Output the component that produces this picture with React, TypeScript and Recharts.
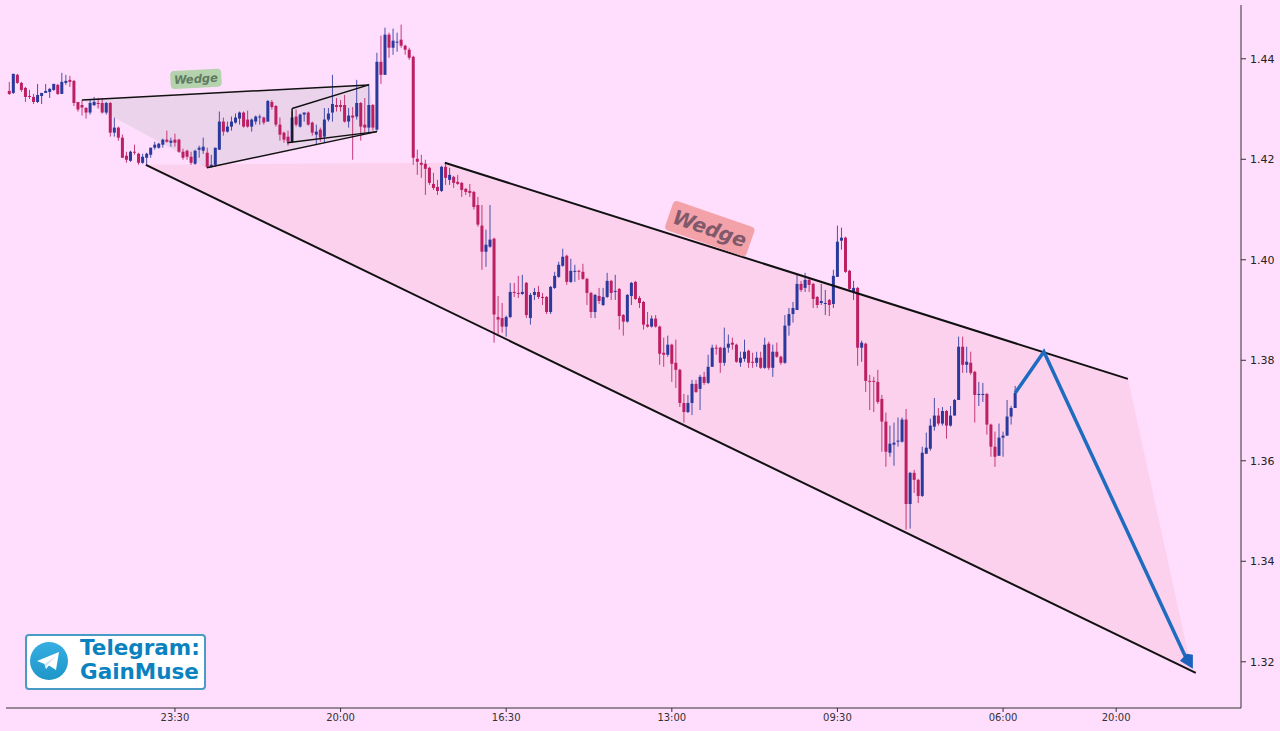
import React from "react";
import { ComposedChart, Area, Bar, Line, XAxis, YAxis, ReferenceLine, ReferenceDot } from "recharts";

const opens = [
  1.4336,1.4332,1.4368,1.4352,1.4342,1.4326,1.4324,1.4314,1.4326,1.4332,
  1.4334,1.4338,1.4348,1.4330,1.4352,1.4358,1.4356,1.4314,1.4308,1.4302,
  1.4293,1.4308,1.4312,1.4312,1.4293,1.4312,1.4253,1.4263,1.4243,1.4207,
  1.4197,1.4215,1.4211,1.4193,1.4203,1.4209,1.4223,1.4223,1.4229,1.4239,
  1.4233,1.4239,1.4239,1.4215,1.4217,1.4205,1.4191,1.4219,1.4217,1.4213,
  1.4185,1.4189,1.4219,1.4275,1.4255,1.4265,1.4273,1.4281,1.4293,1.4279,
  1.4265,1.4275,1.4283,1.4283,1.4275,1.4314,1.4306,1.4269,1.4253,1.4245,
  1.4235,1.4285,1.4265,1.4289,1.4293,1.4273,1.4249,1.4259,1.4245,1.4279,
  1.4293,1.4308,1.4308,1.4308,1.4275,1.4287,1.4285,1.4312,1.4269,1.4263,
  1.4308,1.4259,1.4394,1.4368,1.4448,1.4422,1.4432,1.4438,1.4426,1.4418,
  1.4404,1.4201,1.4193,1.4191,1.4183,1.4151,1.4145,1.4137,1.4185,1.4159,
  1.4165,1.4155,1.4153,1.4141,1.4137,1.4135,1.4109,1.4068,1.4016,1.4026,
  1.4042,1.3886,1.3884,1.3867,1.3886,1.3936,1.3934,1.3932,1.3954,1.3884,
  1.3930,1.3936,1.3926,1.3926,1.3896,1.3944,1.3966,1.3988,1.4008,1.3956,
  1.3976,1.3978,1.3976,1.3962,1.3934,1.3896,1.3928,1.3910,1.3926,1.3958,
  1.3936,1.3942,1.3890,1.3877,1.3928,1.3956,1.3924,1.3916,1.3871,1.3867,
  1.3883,1.3867,1.3815,1.3811,1.3831,1.3795,1.3781,1.3715,1.3697,1.3715,
  1.3753,1.3743,1.3767,1.3755,1.3787,1.3825,1.3825,1.3795,1.3825,1.3835,
  1.3831,1.3795,1.3803,1.3819,1.3797,1.3795,1.3805,1.3785,1.3833,1.3785,
  1.3817,1.3807,1.3795,1.3869,1.3892,1.3900,1.3952,1.3944,1.3960,1.3952,
  1.3926,1.3914,1.3912,1.3920,1.3912,1.3966,1.4038,1.4044,1.3978,1.3936,
  1.3944,1.3825,1.3833,1.3759,1.3759,1.3757,1.3723,1.3678,1.3616,1.3632,
  1.3638,1.3638,1.3682,1.3514,1.3576,1.3562,1.3530,1.3614,1.3624,1.3668,
  1.3690,1.3674,1.3699,1.3670,1.3690,1.3721,1.3827,1.3791,1.3795,1.3777,
  1.3731,1.3731,1.3733,1.3672,1.3628,1.3610,1.3646,1.3650,1.3688,1.3705,
];
const highs = [
  1.4354,1.4370,1.4370,1.4354,1.4344,1.4338,1.4330,1.4350,1.4332,1.4350,
  1.4342,1.4350,1.4350,1.4372,1.4368,1.4366,1.4358,1.4314,1.4318,1.4304,
  1.4318,1.4324,1.4322,1.4322,1.4314,1.4314,1.4283,1.4265,1.4249,1.4215,
  1.4217,1.4229,1.4213,1.4211,1.4213,1.4223,1.4235,1.4233,1.4241,1.4257,
  1.4243,1.4251,1.4241,1.4221,1.4219,1.4215,1.4219,1.4227,1.4243,1.4223,
  1.4209,1.4223,1.4295,1.4283,1.4275,1.4285,1.4291,1.4295,1.4295,1.4297,
  1.4281,1.4287,1.4289,1.4285,1.4318,1.4318,1.4308,1.4283,1.4255,1.4257,
  1.4295,1.4299,1.4291,1.4293,1.4295,1.4275,1.4269,1.4263,1.4302,1.4302,
  1.4368,1.4322,1.4318,1.4328,1.4302,1.4304,1.4358,1.4314,1.4322,1.4350,
  1.4310,1.4412,1.4446,1.4462,1.4452,1.4460,1.4452,1.4468,1.4428,1.4422,
  1.4406,1.4219,1.4209,1.4199,1.4185,1.4173,1.4159,1.4187,1.4193,1.4183,
  1.4167,1.4169,1.4155,1.4143,1.4151,1.4137,1.4125,1.4109,1.4060,1.4109,
  1.4044,1.3928,1.3914,1.3889,1.3954,1.3954,1.3968,1.3970,1.3956,1.3934,
  1.3944,1.3948,1.3934,1.3928,1.3948,1.3976,1.3996,1.4022,1.4010,1.4002,
  1.3990,1.3980,1.3992,1.3964,1.3936,1.3932,1.3944,1.3944,1.3974,1.3960,
  1.3970,1.3944,1.3892,1.3932,1.3956,1.3958,1.3928,1.3918,1.3896,1.3889,
  1.3890,1.3869,1.3845,1.3849,1.3833,1.3841,1.3783,1.3733,1.3731,1.3761,
  1.3761,1.3771,1.3777,1.3811,1.3831,1.3831,1.3827,1.3865,1.3851,1.3845,
  1.3833,1.3817,1.3841,1.3821,1.3815,1.3817,1.3817,1.3845,1.3837,1.3831,
  1.3835,1.3809,1.3890,1.3904,1.3916,1.3970,1.3958,1.3974,1.3964,1.3954,
  1.3928,1.3952,1.3940,1.3922,1.3980,1.4068,1.4064,1.4046,1.3980,1.3958,
  1.3946,1.3839,1.3835,1.3771,1.3767,1.3781,1.3731,1.3696,1.3670,1.3676,
  1.3686,1.3686,1.3703,1.3578,1.3582,1.3564,1.3628,1.3656,1.3684,1.3725,
  1.3705,1.3707,1.3701,1.3709,1.3723,1.3847,1.3847,1.3827,1.3817,1.3779,
  1.3757,1.3755,1.3735,1.3674,1.3658,1.3674,1.3658,1.3721,1.3709,1.3749,
];
const lows = [
  1.4328,1.4330,1.4350,1.4334,1.4314,1.4320,1.4310,1.4312,1.4310,1.4332,
  1.4322,1.4336,1.4328,1.4330,1.4348,1.4344,1.4306,1.4295,1.4287,1.4281,
  1.4289,1.4306,1.4301,1.4291,1.4289,1.4245,1.4245,1.4237,1.4203,1.4193,
  1.4195,1.4209,1.4189,1.4191,1.4189,1.4203,1.4219,1.4221,1.4223,1.4233,
  1.4225,1.4225,1.4213,1.4199,1.4199,1.4189,1.4189,1.4203,1.4211,1.4183,
  1.4183,1.4185,1.4219,1.4247,1.4253,1.4257,1.4271,1.4269,1.4263,1.4263,
  1.4255,1.4269,1.4269,1.4269,1.4275,1.4299,1.4265,1.4237,1.4233,1.4227,
  1.4233,1.4265,1.4263,1.4275,1.4267,1.4247,1.4229,1.4235,1.4233,1.4275,
  1.4275,1.4295,1.4295,1.4273,1.4263,1.4199,1.4279,1.4237,1.4253,1.4253,
  1.4257,1.4255,1.4350,1.4368,1.4402,1.4408,1.4414,1.4422,1.4408,1.4398,
  1.4189,1.4169,1.4163,1.4129,1.4149,1.4139,1.4129,1.4135,1.4149,1.4149,
  1.4143,1.4149,1.4125,1.4129,1.4125,1.4100,1.4066,1.3980,1.3986,1.4024,
  1.3835,1.3851,1.3855,1.3847,1.3884,1.3926,1.3924,1.3930,1.3884,1.3871,
  1.3920,1.3922,1.3910,1.3892,1.3892,1.3942,1.3964,1.3986,1.3950,1.3954,
  1.3956,1.3960,1.3960,1.3910,1.3884,1.3884,1.3912,1.3908,1.3924,1.3920,
  1.3920,1.3861,1.3849,1.3875,1.3910,1.3920,1.3904,1.3861,1.3865,1.3865,
  1.3865,1.3791,1.3787,1.3807,1.3757,1.3745,1.3707,1.3676,1.3695,1.3691,
  1.3735,1.3701,1.3751,1.3753,1.3787,1.3811,1.3775,1.3789,1.3815,1.3821,
  1.3795,1.3787,1.3797,1.3785,1.3785,1.3787,1.3783,1.3783,1.3781,1.3767,
  1.3805,1.3791,1.3793,1.3849,1.3875,1.3900,1.3936,1.3936,1.3936,1.3904,
  1.3904,1.3910,1.3890,1.3888,1.3904,1.3966,1.4020,1.3974,1.3938,1.3920,
  1.3789,1.3797,1.3737,1.3701,1.3697,1.3713,1.3618,1.3588,1.3608,1.3590,
  1.3628,1.3636,1.3463,1.3465,1.3536,1.3516,1.3528,1.3614,1.3620,1.3660,
  1.3670,1.3670,1.3644,1.3668,1.3690,1.3721,1.3775,1.3775,1.3771,1.3676,
  1.3709,1.3717,1.3652,1.3608,1.3588,1.3610,1.3608,1.3650,1.3672,1.3705,
];
const closes = [
  1.4330,1.4370,1.4352,1.4338,1.4324,1.4324,1.4314,1.4328,1.4332,1.4336,
  1.4340,1.4350,1.4330,1.4354,1.4356,1.4354,1.4312,1.4299,1.4303,1.4293,
  1.4312,1.4314,1.4310,1.4293,1.4312,1.4253,1.4263,1.4243,1.4203,1.4199,
  1.4215,1.4213,1.4193,1.4205,1.4211,1.4223,1.4229,1.4231,1.4239,1.4235,
  1.4237,1.4233,1.4215,1.4203,1.4205,1.4193,1.4217,1.4223,1.4225,1.4185,
  1.4189,1.4223,1.4275,1.4255,1.4265,1.4275,1.4283,1.4293,1.4265,1.4265,
  1.4279,1.4285,1.4285,1.4273,1.4316,1.4304,1.4269,1.4249,1.4239,1.4235,
  1.4283,1.4269,1.4289,1.4293,1.4269,1.4253,1.4255,1.4243,1.4279,1.4291,
  1.4310,1.4304,1.4304,1.4275,1.4287,1.4283,1.4312,1.4265,1.4263,1.4308,
  1.4263,1.4394,1.4368,1.4448,1.4422,1.4436,1.4434,1.4426,1.4418,1.4402,
  1.4203,1.4195,1.4189,1.4181,1.4153,1.4143,1.4137,1.4185,1.4163,1.4169,
  1.4153,1.4151,1.4139,1.4135,1.4133,1.4105,1.4070,1.4016,1.4030,1.4040,
  1.3891,1.3881,1.3867,1.3886,1.3936,1.3934,1.3932,1.3936,1.3890,1.3930,
  1.3936,1.3926,1.3924,1.3896,1.3946,1.3968,1.3990,1.4006,1.3956,1.3978,
  1.3978,1.3976,1.3962,1.3934,1.3896,1.3930,1.3918,1.3926,1.3958,1.3934,
  1.3938,1.3888,1.3877,1.3930,1.3954,1.3922,1.3914,1.3871,1.3867,1.3883,
  1.3867,1.3813,1.3811,1.3831,1.3793,1.3781,1.3715,1.3697,1.3715,1.3753,
  1.3737,1.3767,1.3755,1.3787,1.3825,1.3823,1.3795,1.3825,1.3833,1.3831,
  1.3797,1.3805,1.3817,1.3795,1.3795,1.3805,1.3785,1.3831,1.3785,1.3817,
  1.3807,1.3795,1.3869,1.3892,1.3904,1.3952,1.3940,1.3960,1.3950,1.3922,
  1.3910,1.3918,1.3914,1.3910,1.3968,1.4036,1.4044,1.3976,1.3942,1.3944,
  1.3825,1.3835,1.3759,1.3757,1.3757,1.3717,1.3678,1.3618,1.3634,1.3636,
  1.3640,1.3682,1.3514,1.3576,1.3562,1.3530,1.3616,1.3626,1.3670,1.3690,
  1.3674,1.3699,1.3670,1.3690,1.3721,1.3827,1.3791,1.3797,1.3775,1.3731,
  1.3733,1.3733,1.3672,1.3628,1.3608,1.3646,1.3650,1.3688,1.3705,1.3735,
];

const xTicks = [41, 82, 123, 164, 205, 246, 274];
const xTickLabels = ["23:30", "20:00", "16:30", "13:00", "09:30", "06:00", "20:00"];
const yTicks = [1.32, 1.34, 1.36, 1.38, 1.4, 1.42, 1.44];

// wedge shapes, range is [lower edge, upper edge]
const bigWedge = [
  { i: 33.8, range: [1.4189, 1.4189] },
  { i: 107.8, range: [1.3901, 1.4193] },
  { i: 276.9, range: [1.3243, 1.3763] },
  { i: 292.7, range: [1.3182, 1.3184] },
];
const smallWedge = [
  { i: 18, range: [1.4318, 1.4318] },
  { i: 48.9, range: [1.4183, 1.4331] },
  { i: 89, range: [1.4252, 1.4348] },
  { i: 91, range: [1.4255, 1.4255] },
];
const forecast = [
  { i: 249, y: 1.3735 },
  { i: 256.1, y: 1.3817 },
  { i: 291.5, y: 1.3204 },
];

const trendLines = [
  [{ x: 107.8, y: 1.4193 }, { x: 276.9, y: 1.3763 }],
  [{ x: 33.8, y: 1.4189 }, { x: 293.7, y: 1.3178 }],
  [{ x: 18, y: 1.4318 }, { x: 89, y: 1.4348 }],
  [{ x: 48.9, y: 1.4183 }, { x: 91, y: 1.4255 }],
  [{ x: 70, y: 1.4301 }, { x: 89, y: 1.4348 }],
  [{ x: 70, y: 1.4301 }, { x: 70, y: 1.4233 }],
  [{ x: 68.8, y: 1.4233 }, { x: 91, y: 1.4255 }],
];

const candles = opens.map((open, i) => ({
  i,
  open,
  high: highs[i],
  low: lows[i],
  close: closes[i],
}));

const UP = "#2a3a9c";
const DOWN = "#bd1f63";

function Candle(props: any) {
  const { x, y, width, height, payload } = props;
  const perUnit = height / (payload.high - payload.low);
  const cx = x + width / 2;
  const top = y + (payload.high - Math.max(payload.open, payload.close)) * perUnit;
  const bottom = y + (payload.high - Math.min(payload.open, payload.close)) * perUnit;
  const color = payload.close >= payload.open ? UP : DOWN;
  return (
    <g>
      <line x1={cx} x2={cx} y1={y} y2={y + height} stroke={color} strokeWidth={1} strokeOpacity={0.85} />
      <rect x={cx - 1.5} y={top} width={3} height={Math.max(bottom - top, 1)} fill={color} />
    </g>
  );
}

function WedgeTag({ cx, cy, w, h, angle, size, fill, color }: any) {
  return (
    <g transform={`rotate(${angle} ${cx} ${cy})`}>
      <rect x={cx - w / 2} y={cy - h / 2} width={w} height={h} rx={4} fill={fill} />
      <text
        x={cx}
        y={cy}
        textAnchor="middle"
        dominantBaseline="central"
        fontFamily="DejaVu Sans"
        fontWeight="bold"
        fontStyle="italic"
        fontSize={size}
        fill={color}
      >
        Wedge
      </text>
    </g>
  );
}

function ArrowHead({ cx, cy, index }: any) {
  if (index !== forecast.length - 1) return null;
  const d = `M${cx - 7} ${cy + 1} L${cx} ${cy - 6} L${cx + 6} ${cy - 5} L${cx + 6} ${cy + 9} Z`;
  return <path key={index} d={d} fill="#1c62bd" />;
}

function Badge() {
  return (
    <div
      style={{
        position: "absolute",
        left: 25,
        top: 634,
        width: 177,
        height: 52,
        background: "#fff",
        border: "2px solid #4a9ac6",
        borderRadius: 4,
      }}
    >
      <svg width={40} height={40} style={{ position: "absolute", left: 2, top: 5 }}>
        <defs>
          <linearGradient id="tg" x1="0" y1="0" x2="0" y2="1">
            <stop offset="0" stopColor="#37aee2" />
            <stop offset="1" stopColor="#1e96c8" />
          </linearGradient>
        </defs>
        <circle cx={20} cy={20} r={19} fill="url(#tg)" />
        <path d="M8 20 L30 11 L27 29 L20 24.5 L17 28 L15.5 23 Z" fill="#fff" />
        <path d="M15.5 23 L17 28 L18 24.5 L27 15 Z" fill="#d2e5f1" />
      </svg>
      <div
        style={{
          position: "absolute",
          left: 53,
          top: 0,
          fontFamily: "DejaVu Sans",
          fontWeight: "bold",
          fontSize: 21.5,
          lineHeight: "24px",
          color: "#0a82bf",
          whiteSpace: "nowrap",
        }}
      >
        Telegram:
        <br />
        GainMuse
      </div>
    </div>
  );
}

export default function App() {
  return (
    <div style={{ position: "absolute", left: 0, top: 0, width: 1280, height: 731, background: "#ffddfd", overflow: "hidden" }}>
      <ComposedChart width={1280} height={731} data={candles} margin={{ top: 5, right: 0, bottom: 0, left: 6 }}>
        <XAxis
          dataKey="i"
          type="number"
          domain={[-0.82, 304.9]}
          ticks={xTicks}
          tickFormatter={(v) => xTickLabels[xTicks.indexOf(v)]}
          height={23}
          tickSize={4}
          tickMargin={2}
          interval={0}
          allowDataOverflow
          axisLine={{ stroke: "#333" }}
          tickLine={{ stroke: "#333" }}
          tick={{ fontFamily: "DejaVu Sans", fontSize: 10, fill: "#333" }}
        />
        <YAxis
          orientation="right"
          type="number"
          domain={[1.3108, 1.4507]}
          ticks={yTicks}
          tickFormatter={(v) => v.toFixed(2)}
          width={39}
          tickSize={5}
          tickMargin={4}
          interval={0}
          allowDataOverflow
          axisLine={{ stroke: "#333" }}
          tickLine={{ stroke: "#333" }}
          tick={{ fontFamily: "DejaVu Sans", fontSize: 11, fill: "#222" }}
        />
        <Area
          data={bigWedge}
          dataKey="range"
          type="linear"
          fill="#f8bcd2"
          fillOpacity={0.36}
          stroke="none"
          isAnimationActive={false}
        />
        <Area
          data={smallWedge}
          dataKey="range"
          type="linear"
          fill="#a0b0a8"
          fillOpacity={0.2}
          stroke="none"
          isAnimationActive={false}
        />
        <Bar dataKey={(d: any) => [d.low, d.high]} barSize={4} shape={Candle} isAnimationActive={false} />
        {trendLines.map((segment, k) => (
          <ReferenceLine key={k} segment={segment} stroke="#111" strokeWidth={k < 2 ? 2 : 1.5} ifOverflow="visible" />
        ))}
        <Line
          data={forecast}
          dataKey="y"
          type="linear"
          stroke="#1f6bc0"
          strokeWidth={3.5}
          dot={ArrowHead}
          activeDot={false}
          isAnimationActive={false}
        />
        <ReferenceDot
          x={46.2}
          y={1.436}
          ifOverflow="visible"
          shape={(p: any) => (
            <WedgeTag {...p} w={51} h={18} angle={-3} size={11.5} fill="#b4d2ac" color="#5f7a62" />
          )}
        />
        <ReferenceDot
          x={173.4}
          y={1.4062}
          ifOverflow="visible"
          shape={(p: any) => (
            <WedgeTag {...p} w={86} h={31} angle={19} size={20} fill="#f4a2aa" color="#80596a" />
          )}
        />
      </ComposedChart>
      <Badge />
    </div>
  );
}
